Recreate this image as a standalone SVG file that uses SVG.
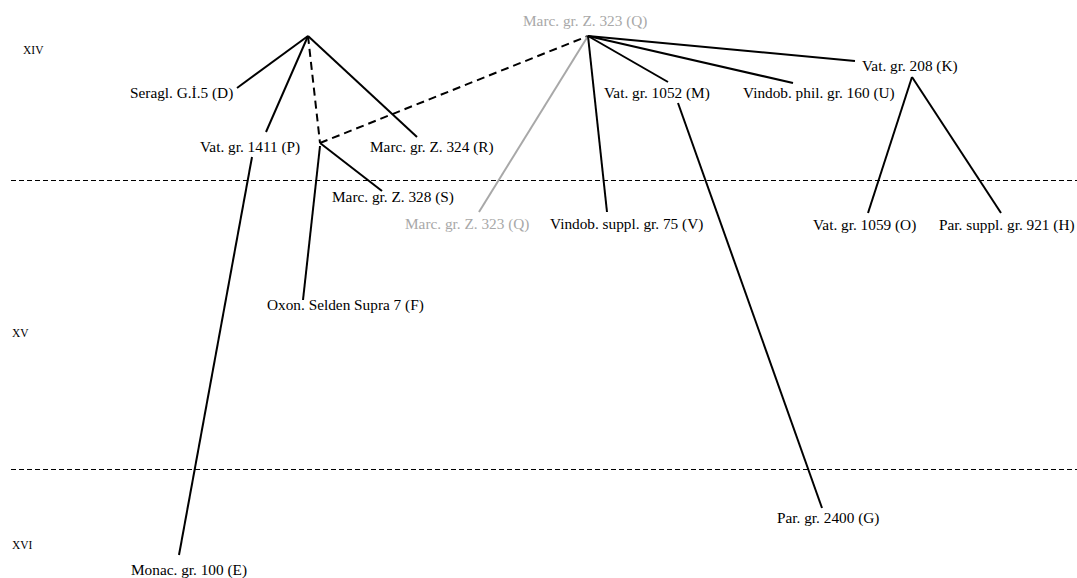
<svg xmlns="http://www.w3.org/2000/svg" width="1077" height="578" viewBox="0 0 1077 578">
<style>
text{font-family:"Liberation Serif","Times New Roman",serif;font-size:15.3px;fill:#000}
.era{font-size:11.5px}
.grey{fill:#a8a8a8}
.c{stroke:#000;stroke-width:2;fill:none}
.d{stroke:#000;stroke-width:2;fill:none;stroke-dasharray:8 5}
.g{stroke:#a8a8a8;stroke-width:2;fill:none}
.sep{stroke:#000;stroke-width:1;stroke-dasharray:5 3;fill:none}
</style>
<rect width="1077" height="578" fill="#fff"/>
<g id="periods">
<line class="sep" x1="11" y1="180.5" x2="1077" y2="180.5"/>
<line class="sep" x1="11" y1="469.5" x2="1077" y2="469.5"/>
<text class="era" x="23" y="54">XIV</text>
<text class="era" x="12" y="337">XV</text>
<text class="era" x="12" y="549">XVI</text>
</g>
<g id="connectors">
<line class="c" x1="308" y1="36" x2="237" y2="88"/>
<line class="c" x1="308" y1="36" x2="266" y2="132"/>
<line class="d" x1="308" y1="36" x2="320" y2="143"/>
<line class="c" x1="308" y1="36" x2="417" y2="137"/>
<line class="d" x1="320" y1="143" x2="588" y2="36"/>
<line class="c" x1="320" y1="143" x2="382" y2="191"/>
<line class="c" x1="320" y1="146" x2="303" y2="300"/>
<line class="c" x1="252" y1="157" x2="179" y2="555"/>
<line class="g" x1="588" y1="36" x2="479" y2="212"/>
<line class="c" x1="588" y1="36" x2="607" y2="212"/>
<line class="c" x1="588" y1="36" x2="668" y2="82"/>
<line class="c" x1="588" y1="36" x2="793" y2="83"/>
<line class="c" x1="588" y1="36" x2="855" y2="61"/>
<line class="c" x1="678" y1="103" x2="822" y2="508"/>
<line class="c" x1="912" y1="77" x2="868" y2="213"/>
<line class="c" x1="912" y1="77" x2="1001" y2="213"/>
</g>
<g id="node-D"><text x="130" y="98">Seragl. G.İ.5 (D)</text></g>
<g id="node-P"><text x="200" y="152">Vat. gr. 1411 (P)</text></g>
<g id="node-R"><text x="370" y="152">Marc. gr. Z. 324 (R)</text></g>
<g id="node-S"><text x="332" y="202">Marc. gr. Z. 328 (S)</text></g>
<g id="node-F"><text x="267" y="310">Oxon. Selden Supra 7 (F)</text></g>
<g id="node-E"><text x="131" y="575">Monac. gr. 100 (E)</text></g>
<g id="node-Q-top"><text class="grey" x="523" y="26">Marc. gr. Z. 323 (Q)</text></g>
<g id="node-Q-bottom"><text class="grey" x="405" y="229">Marc. gr. Z. 323 (Q)</text></g>
<g id="node-V"><text x="550" y="229">Vindob. suppl. gr. 75 (V)</text></g>
<g id="node-M"><text x="604" y="98">Vat. gr. 1052 (M)</text></g>
<g id="node-U"><text x="743" y="98">Vindob. phil. gr. 160 (U)</text></g>
<g id="node-K"><text x="862" y="71">Vat. gr. 208 (K)</text></g>
<g id="node-O"><text x="813" y="230">Vat. gr. 1059 (O)</text></g>
<g id="node-H"><text x="939" y="230">Par. suppl. gr. 921 (H)</text></g>
<g id="node-G"><text x="777" y="523">Par. gr. 2400 (G)</text></g>
</svg>
